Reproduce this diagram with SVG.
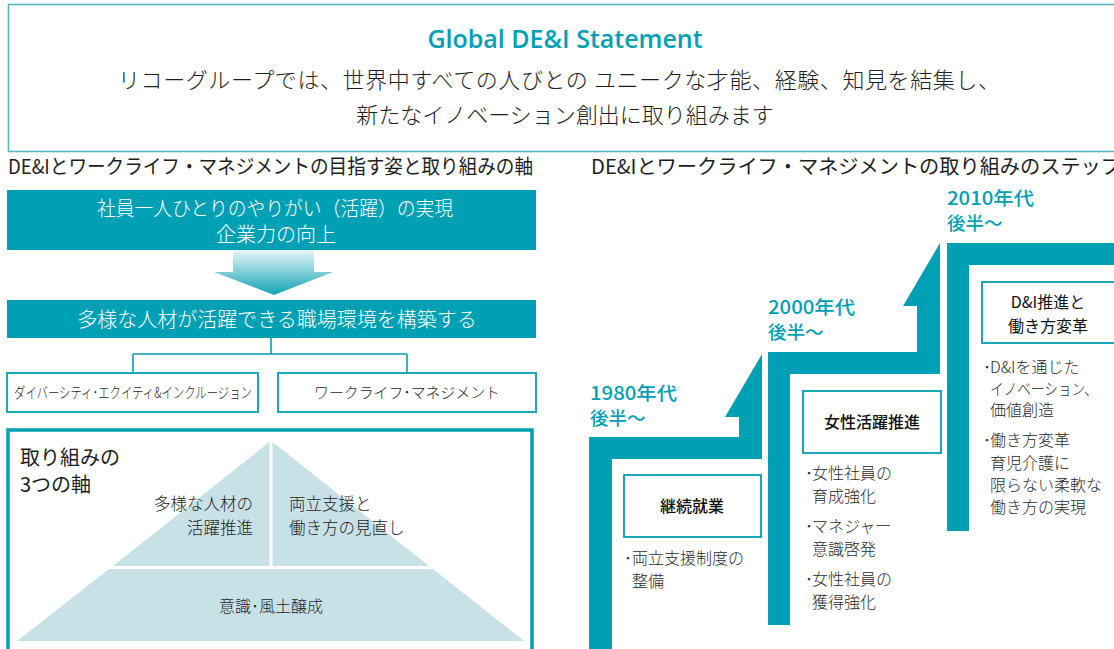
<svg xmlns="http://www.w3.org/2000/svg" width="1114" height="649" viewBox="0 0 1114 649">
<defs>
<linearGradient id="arrowGrad" x1="0" y1="0" x2="0" y2="1">
<stop offset="0" stop-color="#eaf6f8"/>
<stop offset="1" stop-color="#10a2b5"/>
</linearGradient>
<style>
text { font-family: "Noto Sans CJK JP", "Noto Sans", sans-serif; font-weight: 300; }
.dk { fill: #1e1e1e; }
.wt { fill: #ffffff; }
.band { fill: #00a0b4; }
.obox { fill: #ffffff; stroke: #00a0b4; stroke-width: 1.8; }
.pyr { fill: #c8e1e7; }
.yr { fill: #00a0b4; font-size: 18.5px; font-weight: 500; }
.bl { fill: #2a2a2a; font-size: 16px; }
.bx { fill: #111; font-size: 16px; font-weight: 500; text-anchor: middle; }
.conn { fill: none; stroke: #00a0b4; stroke-width: 1.6; }
.mid { text-anchor: middle; }
</style>
</defs>
<rect width="1114" height="649" fill="#ffffff"/>

<g id="statement">
<rect x="8.5" y="4.5" width="1115" height="147" fill="none" stroke="#55b9c8" stroke-width="1.6"/>
<text x="565" y="48" class="mid" style="font-family:'Open Sans','Liberation Sans',sans-serif;font-weight:600;font-size:25px;fill:#00a0b4">Global DE&amp;I Statement</text>
<text x="559" y="88" class="mid dk" font-size="22" textLength="882" lengthAdjust="spacing">リコーグループでは、世界中すべての人びとの ユニークな才能、経験、知見を結集し、</text>
<text x="565" y="123" class="mid dk" font-size="22">新たなイノベーション創出に取り組みます</text>
</g>

<g id="heading-left">
<text x="8" y="174" class="dk" font-size="20" textLength="525" lengthAdjust="spacingAndGlyphs" style="font-weight:400">DE&amp;Iとワークライフ・マネジメントの目指す姿と取り組みの軸</text>
</g>
<g id="heading-right">
<text x="591" y="174" class="dk" font-size="20" textLength="530" lengthAdjust="spacingAndGlyphs" style="font-weight:400">DE&amp;Iとワークライフ・マネジメントの取り組みのステップ</text>
</g>

<g id="goal">
<rect x="7" y="190" width="529" height="60" class="band"/>
<text x="275" y="216" class="mid wt" font-size="20" textLength="356" lengthAdjust="spacingAndGlyphs">社員一人ひとりのやりがい（活躍）の実現</text>
<text x="276" y="242" class="mid wt" font-size="20">企業力の向上</text>
</g>

<g id="down-arrow">
<polygon points="233,250 314,250 314,272 333,272 274,295 214,272 233,272" fill="url(#arrowGrad)"/>
</g>

<g id="workplace">
<rect x="7" y="300" width="529" height="38" class="band"/>
<text x="277" y="327" class="mid wt" font-size="20">多様な人材が活躍できる職場環境を構築する</text>
</g>

<g id="connectors">
<path class="conn" d="M271,338 V354 M133,354 H407 M133,354 V373 M407,354 V373"/>
</g>

<g id="dei">
<rect x="7" y="373" width="251" height="39" class="obox"/>
<text x="133" y="398" class="mid dk" font-size="15" textLength="238" lengthAdjust="spacingAndGlyphs">ダイバーシティ･エクイティ&amp;インクルージョン</text>
</g>
<g id="wlm">
<rect x="278" y="373" width="258" height="39" class="obox"/>
<text x="407" y="398" class="mid dk" font-size="15" textLength="186" lengthAdjust="spacingAndGlyphs">ワークライフ･マネジメント</text>
</g>

<g id="three-axes">
<rect x="8" y="430" width="524" height="240" fill="none" stroke="#00a0b4" stroke-width="3.5"/>
<text x="20" y="465" class="dk" font-size="20" style="font-weight:400">取り組みの</text>
<text x="20" y="492" class="dk" font-size="20" style="font-weight:400">3つの軸</text>
</g>
<g id="axis-diversity">
<polygon class="pyr" points="269.5,442 269.5,566 113,566"/>
<text x="253" y="510" class="dk" font-size="16.5" text-anchor="end">多様な人材の</text>
<text x="253" y="534" class="dk" font-size="16.5" text-anchor="end">活躍推進</text>
</g>
<g id="axis-balance">
<polygon class="pyr" points="272.5,442 429,566 272.5,566"/>
<text x="289" y="510" class="dk" font-size="16.5">両立支援と</text>
<text x="289" y="534" class="dk" font-size="16.5">働き方の見直し</text>
</g>
<g id="axis-culture">
<polygon class="pyr" points="109,569 433,569 524,641 17,641"/>
<text x="271" y="612" class="mid dk" font-size="16">意識･風土醸成</text>
</g>

<g id="step-1980">
<polygon class="band" points="589,660 589,437 739,437 739,417 725,417 762,354 762,459 612,459 612,660"/>
<text x="590" y="400" class="yr" textLength="87" lengthAdjust="spacingAndGlyphs">1980年代</text>
<text x="590" y="425" class="yr">後半〜</text>
<rect x="624" y="475" width="137" height="62" class="obox"/>
<text x="692" y="512" class="bx">継続就業</text>
<text x="624" y="564" class="bl">･</text>
<text x="632" y="564" class="bl">両立支援制度の</text>
<text x="632" y="587" class="bl">整備</text>
</g>

<g id="step-2000">
<polygon class="band" points="768,625 768,352 917,352 917,306 903,306 940,243 940,374 790,374 790,625"/>
<text x="768" y="314" class="yr" textLength="87" lengthAdjust="spacingAndGlyphs">2000年代</text>
<text x="768" y="339" class="yr">後半〜</text>
<rect x="803" y="391" width="138" height="62" class="obox"/>
<text x="872" y="428" class="bx">女性活躍推進</text>
<text x="805" y="479" class="bl">･</text>
<text x="812" y="479" class="bl">女性社員の</text>
<text x="812" y="502" class="bl">育成強化</text>
<text x="805" y="532" class="bl">･</text>
<text x="812" y="532" class="bl">マネジャー</text>
<text x="812" y="555" class="bl">意識啓発</text>
<text x="805" y="585" class="bl">･</text>
<text x="812" y="585" class="bl">女性社員の</text>
<text x="812" y="608" class="bl">獲得強化</text>
</g>

<g id="step-2010">
<polygon class="band" points="947,531 947,243 1120,243 1120,265 969,265 969,531"/>
<text x="947" y="205" class="yr" textLength="87" lengthAdjust="spacingAndGlyphs">2010年代</text>
<text x="947" y="230" class="yr">後半〜</text>
<rect x="982" y="282" width="140" height="61" class="obox"/>
<text x="1048" y="308" class="bx" style="font-weight:400">D&amp;I推進と</text>
<text x="1048" y="332" class="bx" style="font-weight:400">働き方変革</text>
<text x="983" y="373" class="bl">･</text>
<text x="990" y="373" class="bl">D&amp;Iを通じた</text>
<text x="990" y="395" class="bl" textLength="108" lengthAdjust="spacingAndGlyphs">イノベーション、</text>
<text x="990" y="416" class="bl">価値創造</text>
<text x="983" y="446" class="bl">･</text>
<text x="990" y="446" class="bl">働き方変革</text>
<text x="990" y="469" class="bl">育児介護に</text>
<text x="990" y="491" class="bl">限らない柔軟な</text>
<text x="990" y="513" class="bl">働き方の実現</text>
</g>
</svg>
